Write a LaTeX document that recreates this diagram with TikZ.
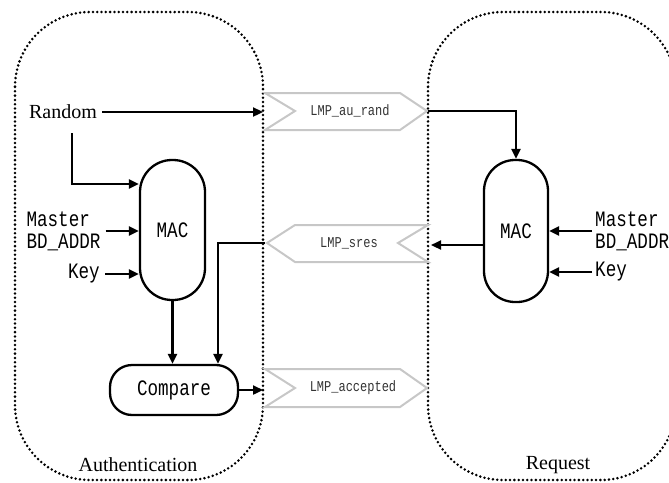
\documentclass[tikz,border=0pt]{standalone}
\usepackage{fontspec}
\setmainfont{Liberation Serif}
\setmonofont{Liberation Mono}
\newfontfamily\narrowmono[FakeStretch=0.8]{Liberation Mono}
\usetikzlibrary{arrows.meta}

\begin{document}
\begin{tikzpicture}[x=1pt,y=-1pt,
  wire/.style={line width=2.3pt, -{Triangle[length=10pt,width=9pt]}},
  zone/.style={line width=2.8pt, dash pattern=on 0pt off 4.3pt, line cap=round, rounded corners=75pt},
  block/.style={draw, line width=2.3pt, font=\fontsize{22}{24}\selectfont\narrowmono, inner sep=0pt},
  msg/.style={draw=black!22, line width=2pt, line join=miter},
  msgtext/.style={font=\fontsize{15}{16}\selectfont\narrowmono, text=black!80, inner sep=0pt},
  lbl/.style={font=\fontsize{22}{22}\selectfont\narrowmono, align=left, inner sep=1pt},
  zonelbl/.style={font=\fontsize{20}{22}\selectfont, inner sep=0pt}]

\useasboundingbox (0,0) rectangle (669,482);
\clip (0,0) rectangle (669,482);

% the two parties
\draw[zone] (15,12) rectangle (263,480);
\draw[zone] (428,12) rectangle (676,480);
\node[zonelbl] (authlbl) at (138,465) {Authentication};
\node[zonelbl] (reqlbl) at (558,465) {Request};

% message ribbons between the parties
\draw[msg] (265,93) -- (400,93) -- (427,111) -- (400,130) -- (265,130) -- (295,111) -- cycle;
\node[msgtext] (aurand) at (350,111) {LMP\_au\_rand};
\coordinate (aurandIn) at (263,112);
\coordinate (aurandOut) at (428,111);

\draw[msg] (267,243) -- (295,225) -- (428,225) -- (398,243) -- (428,262) -- (295,262) -- cycle;
\node[msgtext] (sres) at (349,243) {LMP\_sres};
\coordinate (sresIn) at (431,245);
\coordinate (sresOut) at (265,243);

\draw[msg] (265,369) -- (400,369) -- (427,388) -- (400,407) -- (265,407) -- (295,388) -- cycle;
\node[msgtext] (accepted) at (353,388) {LMP\_accepted};
\coordinate (acceptedIn) at (263,390);

% authentication side
\node[lbl, font=\fontsize{20}{22}\selectfont\rmfamily] (rnd) at (63,112) {Random};
\node[block, minimum width=65pt, minimum height=140pt, rounded corners=32pt] (lmac) at (172.5,230) {MAC};
\node[lbl] (lmst) at (63.5,231) {Master\\BD\_ADDR};
\node[lbl, anchor=east] (lkey) at (101,274) {Key};
\node[block, minimum width=128pt, minimum height=50pt, rounded corners=22pt] (cmp) at (174,390) {Compare};

\coordinate (rndDown) at (72,133);
\coordinate (rndTurn) at (72,184);
\coordinate (sresDrop) at (218,0);

\draw[wire] ([xshift=4pt]rnd.east) -- (aurandIn);
\draw[wire] (rndDown) -- (rndTurn) -- (rndTurn -| lmac.west);
\draw[wire] ([xshift=4pt]lmst.east) -- (lmst.east -| lmac.west);
\draw[wire] ([xshift=4pt]lkey.east) -- (lkey.east -| lmac.west);
\draw[wire] (lmac.south) -- (lmac.south |- cmp.north);
\draw[wire] (sresOut) -| (cmp.north -| sresDrop);
\draw[wire] (cmp.east) -- (acceptedIn);

% request side
\node[block, minimum width=64pt, minimum height=142pt, rounded corners=31pt] (rmac) at (516,231) {MAC};
\node[lbl, anchor=west] (rmst) at (594,231) {Master\\BD\_ADDR};
\node[lbl, anchor=west] (rkey) at (594,272) {Key};

\draw[wire] ([xshift=-2pt]rmst.west) -- (rmst.west -| rmac.east);
\draw[wire] ([xshift=-2pt]rkey.west) -- (rkey.west -| rmac.east);
\draw[wire] (aurandOut) -| (rmac.north);
\draw[wire] (rmac.west |- sresIn) -- (sresIn);

\end{tikzpicture}
\end{document}
